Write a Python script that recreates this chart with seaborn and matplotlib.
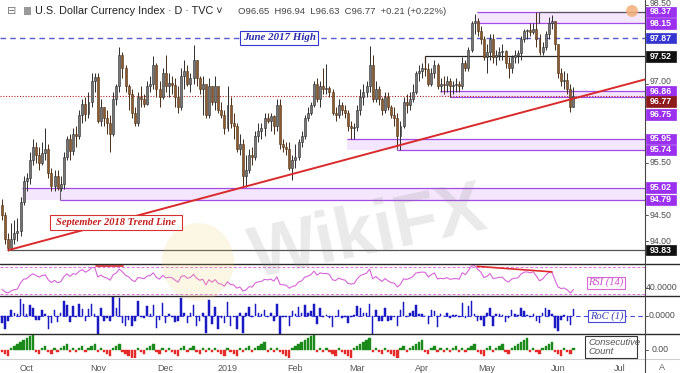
import numpy as np
import pandas as pd
import matplotlib
matplotlib.use("Agg")
import matplotlib.pyplot as plt
from matplotlib.patches import Rectangle, Ellipse
from matplotlib.lines import Line2D
import seaborn as sns

# ---------------- data ----------------
prior_closes = [96.05, 95.20, 95.10, 95.50, 95.15, 94.85, 94.75, 94.60, 94.75, 95.15, 95.15,
                95.45, 95.20, 95.05, 95.35, 95.10, 95.25, 94.80, 94.50, 94.90, 94.50, 94.75]
first_open = 94.70

close_sep = [94.50, 94.05, 93.88, 94.05, 94.15, 94.20, 94.75, 95.15]
high_sep = [94.80, 94.55, 94.15, 94.35, 94.40, 94.45, 94.85, 95.25]
low_sep = [94.40, 93.95, 93.81, 93.85, 93.95, 94.00, 94.10, 94.70]

close_oct = [95.20, 95.55, 95.80, 95.65, 95.50, 95.68, 95.75, 95.30, 95.05, 95.25, 95.02, 95.10,
             95.60, 95.95, 95.72, 96.05, 96.00, 96.40, 96.62, 96.42, 96.65, 97.05, 97.12]
high_oct = [95.30, 95.70, 95.95, 95.90, 95.80, 95.90, 96.15, 95.85, 95.40, 95.35, 95.35, 95.25,
            95.70, 96.00, 96.05, 96.15, 96.20, 96.50, 96.70, 96.75, 96.85, 97.20, 97.20]
low_oct = [94.95, 95.10, 95.45, 95.50, 95.35, 95.45, 95.55, 95.20, 94.95, 94.95, 94.98, 94.95,
           95.00, 95.55, 95.55, 95.65, 95.80, 95.95, 96.25, 96.30, 96.35, 96.55, 96.85]

close_nov = [96.30, 96.55, 96.35, 96.25, 96.05, 96.70, 96.95, 97.55, 97.30, 96.95, 96.80, 96.45,
             96.25, 96.75, 96.70, 96.62, 96.95, 97.00, 97.35, 96.90, 96.75, 97.20]
high_nov = [97.20, 96.70, 96.55, 96.50, 96.40, 96.85, 97.00, 97.70, 97.60, 97.35, 97.00, 96.90,
            96.55, 96.85, 96.95, 96.80, 97.05, 97.15, 97.53, 97.40, 97.05, 97.30]
low_nov = [96.25, 96.20, 96.20, 96.05, 95.70, 96.00, 96.60, 96.85, 97.10, 96.85, 96.50, 96.35,
           96.20, 96.20, 96.55, 96.55, 96.60, 96.85, 96.90, 96.75, 96.55, 96.70]

close_dec = [96.95, 97.02, 96.98, 96.75, 96.55, 97.15, 97.25, 97.00, 97.10, 97.45, 97.10, 96.90,
             97.00, 96.40, 96.95, 96.65, 96.95, 96.50, 96.40, 96.15]
high_dec = [97.55, 97.20, 97.15, 97.10, 96.95, 97.30, 97.45, 97.35, 97.20, 97.74, 97.45, 97.15,
            97.15, 97.00, 97.10, 96.95, 97.15, 96.95, 96.65, 96.50]
low_dec = [96.85, 96.75, 96.80, 96.55, 96.45, 96.50, 96.90, 96.95, 96.85, 97.00, 96.95, 96.80,
           96.40, 96.35, 96.35, 96.60, 96.50, 96.45, 96.35, 96.05]

close_jan = [96.60, 96.25, 96.20, 95.75, 95.85, 95.25, 95.35, 95.65, 95.60, 96.00, 96.10, 96.15,
             96.35, 96.30, 96.38, 96.20, 96.60, 95.85, 95.80, 95.75, 95.40, 95.55]
high_jan = [96.96, 96.75, 96.45, 96.25, 96.05, 95.95, 95.65, 95.75, 95.80, 96.10, 96.25, 96.25,
            96.45, 96.45, 96.45, 96.40, 96.70, 96.70, 95.95, 95.90, 95.90, 95.65]
low_jan = [96.10, 96.15, 95.95, 95.70, 95.65, 95.05, 95.03, 95.30, 95.45, 95.55, 95.90, 95.95,
           96.00, 96.25, 96.10, 96.05, 96.10, 95.75, 95.70, 95.65, 95.35, 95.16]

close_feb = [95.60, 95.90, 96.00, 96.35, 96.45, 96.60, 97.00, 96.70, 96.95, 96.90, 96.92, 96.85,
             96.45, 96.40, 96.60, 96.50, 96.45, 96.20, 96.15, 96.18]
high_feb = [95.85, 95.95, 96.10, 96.40, 96.55, 96.65, 97.05, 97.10, 97.05, 97.30, 97.37, 96.95,
            96.90, 96.55, 96.70, 96.65, 96.60, 96.50, 96.30, 96.25]
low_feb = [95.40, 95.55, 95.80, 95.95, 96.30, 96.40, 96.55, 96.65, 96.55, 96.80, 96.80, 96.75,
           96.40, 96.30, 96.35, 96.40, 96.35, 96.10, 95.95, 95.95]

close_mar = [96.50, 96.75, 96.85, 96.95, 97.35, 96.70, 96.90, 96.70, 96.50, 96.75, 96.55, 96.40,
             96.35, 96.00, 96.20, 96.65, 96.60, 96.70, 96.85, 97.20, 97.25]
high_mar = [96.60, 96.90, 97.00, 97.05, 97.71, 97.55, 97.05, 96.95, 96.75, 96.85, 96.85, 96.60,
            96.55, 96.45, 96.30, 96.75, 96.80, 96.85, 97.00, 97.25, 97.35]
low_mar = [96.10, 96.40, 96.60, 96.75, 96.85, 96.65, 96.65, 96.60, 96.40, 96.45, 96.50, 96.35,
           96.20, 95.80, 95.74, 96.15, 96.45, 96.50, 96.65, 96.80, 97.05]

close_apr = [97.30, 97.28, 97.00, 97.20, 97.35, 96.95, 97.00, 96.97, 97.05, 96.95, 96.98, 97.00,
             96.96, 97.40, 97.30, 97.65, 98.15, 98.20, 98.00, 97.85, 97.50]
high_apr = [97.40, 97.52, 97.40, 97.30, 97.45, 97.40, 97.10, 97.15, 97.15, 97.10, 97.05, 97.10,
            97.05, 97.50, 97.45, 97.70, 98.20, 98.33, 98.25, 98.10, 97.90]
low_apr = [97.10, 97.15, 96.95, 96.95, 97.10, 96.90, 96.85, 96.80, 96.85, 96.75, 96.80, 96.85,
           96.85, 96.90, 97.25, 97.25, 97.60, 97.95, 97.90, 97.75, 97.45]

close_may = [97.60, 97.85, 97.50, 97.55, 97.60, 97.62, 97.40, 97.30, 97.50, 97.55, 97.58, 97.85,
             98.00, 98.02, 97.98, 98.05, 97.85, 97.60, 97.70, 97.95, 98.15, 98.20, 97.75]
high_may = [97.75, 97.95, 97.95, 97.65, 97.70, 97.75, 97.65, 97.50, 97.55, 97.65, 97.65, 97.90,
            98.05, 98.05, 98.15, 98.15, 98.37, 97.95, 97.80, 98.00, 98.27, 98.31, 98.20]
low_may = [97.20, 97.45, 97.40, 97.35, 97.45, 97.45, 97.30, 97.10, 97.20, 97.40, 97.40, 97.45,
           97.80, 97.85, 97.90, 97.95, 97.70, 97.55, 97.55, 97.65, 97.85, 98.05, 97.65]

close_jun = [97.20, 97.05, 97.08, 96.90, 96.56, 96.77]
high_jun = [97.70, 97.30, 97.25, 97.20, 97.00, 96.94]
low_jun = [97.10, 96.95, 96.90, 96.80, 96.46, 96.63]

holidays = ["2018-12-25", "2019-01-01", "2019-04-19"]
month_labels = ["Oct", "Nov", "Dec", "2019", "Feb", "Mar", "Apr", "May", "Jun", "Jul"]

# horizontal levels / zones drawn on the chart (price values)
june2017_high = 97.87
level_9752 = 97.52
last_close = 96.77
support_low = 93.83
zones = [(98.15, 98.37), (96.75, 96.86), (95.74, 95.95), (94.79, 95.02)]
trend_x = [2, 208]
trend_y = [93.83, 97.08]
rsi_div1_x, rsi_div1_y = [30.5, 39.2], [71.5, 71.5]
rsi_div2_x, rsi_div2_y = [153.8, 178.0], [70.5, 62.5]
axis_ticks = [98.5, 97.0, 95.5, 94.5, 94.0]

# ---------------- assemble ----------------
closes = np.array(close_sep + close_oct + close_nov + close_dec + close_jan + close_feb +
                  close_mar + close_apr + close_may + close_jun)
highs = np.array(high_sep + high_oct + high_nov + high_dec + high_jan + high_feb +
                 high_mar + high_apr + high_may + high_jun)
lows = np.array(low_sep + low_oct + low_nov + low_dec + low_jan + low_feb +
                low_mar + low_apr + low_may + low_jun)
n = len(closes)
opens = np.concatenate([[first_open], closes[:-1]])
hi = np.maximum(highs, np.maximum(opens, closes))
lo = np.minimum(lows, np.minimum(opens, closes))
idx = np.arange(n)

dates = pd.bdate_range("2018-09-19", "2019-07-10")
dates = dates[~dates.isin(pd.to_datetime(holidays))]
ym = dates.year * 100 + dates.month
tick_pos = []
for k in range(1, len(ym)):
    if ym[k] != ym[k - 1]:
        tick_pos.append(k)
tick_pos = tick_pos[:len(month_labels)]

# indicators
allc = np.array(prior_closes + list(closes))
d = np.diff(allc)
gain = np.clip(d, 0, None)
loss = np.clip(-d, 0, None)
N = 14
ag, al = gain[:N].mean(), loss[:N].mean()
rsi = [np.nan] * N
for g, l in zip(gain[N:], loss[N:]):
    ag = (ag * 13 + g) / 14
    al = (al * 13 + l) / 14
    rsi.append(100 - 100 / (1 + ag / al))
rsi = np.array(rsi)[-n:]
roc = (100 * d / allc[:-1])[-n:]
cnt, cc = 0, []
for v in d:
    if v > 0:
        cnt = cnt + 1 if cnt > 0 else 1
    elif v < 0:
        cnt = cnt - 1 if cnt < 0 else -1
    else:
        cnt = 0
    cc.append(cnt)
cc = np.array(cc)[-n:]

# ---------------- figure ----------------
sns.set_style("white")
plt.rcParams["font.family"] = ["Liberation Sans", "DejaVu Sans"]

W, H = 680, 373
PR = 645
XMIN, XMAX = -0.647, 208.15
Y_TOP, Y_BOT = 98.595, 93.567
RSI_LIM = (27.5, 73.9)
ROC_LIM = (-0.66, 0.70)
CC_LIM = (-4.0, 8.0)
fig = plt.figure(figsize=(W / 100, H / 100), dpi=100)
fig.patch.set_facecolor("white")


def fx(px):
    return px / W


def fy(py):
    return 1 - py / H


def panel(top, bottom):
    a = fig.add_axes([0, 1 - bottom / H, PR / W, (bottom - top) / H])
    a.set_facecolor("none")
    for s in a.spines.values():
        s.set_visible(False)
    a.set_xticks([])
    a.set_yticks([])
    return a


ax = panel(0, 264)
ax_rsi = panel(264, 296)
ax_roc = panel(296, 334)
ax_cc = panel(334, 358)

PURPLE_LINE = "#a24be8"
PURPLE_FILL = "#f4e6fc"
PURPLE_LBL = "#9b30f0"

# zones
zone_start = [153.8, 141.8, 111.7, 6.5]
zone_low_start = [153.8, 145.0, 127.9, 18.8]
for (zl, zh), xs, xl in zip(zones, zone_start, zone_low_start):
    ax.add_patch(Rectangle((xs, zl), XMAX - xs + 2, zh - zl, fc=PURPLE_FILL, ec="none", zorder=1))
    ax.hlines(zh, xs, XMAX + 2, color=PURPLE_LINE, lw=0.9, zorder=2)
    ax.hlines(zl, xl, XMAX + 2, color=PURPLE_LINE, lw=0.9, zorder=2)
    if xl != xs:
        ax.vlines(xl, zl, zh, color="#666666", lw=0.8, zorder=2)
ax.vlines(173.8, 98.15, 98.37, color="#444444", lw=0.8, zorder=2)
ax.hlines(98.37, 173.8, XMAX + 2, color="#555555", lw=0.8, zorder=2)

ax.hlines(june2017_high, XMIN, XMAX, color="#5a5ad0", lw=1.0, linestyles=(0, (4, 3)), zorder=2)
ax.hlines(level_9752, 136.9, XMAX + 2, color="#222222", lw=0.9, zorder=2)
ax.vlines(136.9, 97.40, 97.52, color="#222222", lw=0.9, zorder=2)
ax.hlines(support_low, 2, XMAX + 2, color="#555555", lw=0.9, zorder=2)
ax.hlines(last_close, XMIN, XMAX, color="#b22222", lw=0.8, linestyles=(0, (1, 1.5)), zorder=2)

# candles
up = closes >= opens
ax.vlines(idx[up], lo[up], hi[up], color="#2e2e2e", lw=0.7, zorder=3)
ax.vlines(idx[~up], lo[~up], hi[~up], color="#4a2e14", lw=0.7, zorder=3)
ax.bar(idx[up], (closes - opens)[up], bottom=opens[up], width=0.64, color="#767676",
       edgecolor="#2a2a2a", linewidth=0.4, zorder=4)
ax.bar(idx[~up], (closes - opens)[~up], bottom=opens[~up], width=0.64, color="#8c5a2c",
       edgecolor="#4d3016", linewidth=0.4, zorder=4)

# trend line
sns.lineplot(x=trend_x, y=trend_y, ax=ax, color="#d92b2b", lw=1.4, zorder=5)

# RSI
ax_rsi.hlines([70, 30], XMIN, XMAX, color="#e070e0", lw=0.7, linestyles=(0, (3, 2)))
sns.lineplot(x=idx, y=rsi, ax=ax_rsi, color="#d764d7", lw=0.8)
ax_rsi.plot(rsi_div1_x, rsi_div1_y, color="#e02828", lw=1.2)
ax_rsi.plot(rsi_div2_x, rsi_div2_y, color="#e02828", lw=1.2)

# RoC
ax_roc.hlines(0, XMIN, XMAX, color="#4545e0", lw=0.8, linestyles=(0, (4, 3)))
ax_roc.bar(idx, roc, width=0.5, color="#1a1ac4", edgecolor="#1a1ac4", linewidth=0.35, zorder=3)

# Consecutive count
cc_col = np.where(cc > 0, "#1a8a1a", "#e52a2a")
ax_cc.bar(idx, cc, width=0.75, color=cc_col, edgecolor=cc_col, linewidth=0.3)

for a in (ax, ax_rsi, ax_roc, ax_cc):
    a.set_xlim(XMIN, XMAX)
    a.set_xlabel("")
    a.set_ylabel("")
ax.set_ylim(Y_BOT, Y_TOP)
ax_rsi.set_ylim(*RSI_LIM)
ax_roc.set_ylim(*ROC_LIM)
ax_cc.set_ylim(*CC_LIM)

ax_cc.set_xticks(tick_pos)
ax_cc.set_xticklabels(month_labels, fontsize=6.5, color="#555555")
ax_cc.tick_params(axis="x", length=0, pad=4)

# ---------------- frame lines ----------------
def fline(x0, y0, x1, y1, color="#222222", lw=1.0, z=12):
    fig.add_artist(Line2D([fx(x0), fx(x1)], [fy(y0), fy(y1)], transform=fig.transFigure,
                          color=color, lw=lw, zorder=z))


for yy in (264, 296, 334):
    fline(0, yy, W, yy, "#2a2a2a", 1.0)
fline(0, 358.5, W, 358.5, "#cfcfcf", 0.8)
fline(PR, 0, PR, H, "#444444", 0.8)

# ---------------- right axis labels ----------------
def vpx(v):
    return (Y_TOP - v) / (Y_TOP - Y_BOT) * 264


for v in axis_ticks:
    py = vpx(v)
    fline(PR, py, PR + 3, py, "#555555", 0.7)
    ty = 3.2 if v == 98.5 else (81.5 if v == 97.0 else py)
    fig.text(fx(661), fy(ty), f"{v:.2f}", fontsize=6.3, color="#4d4d4d", ha="center", va="center", zorder=13)


def box_text(cx, cy, w, h, text, tc, ec, fc="white", lw=0.8, z=20, **kw):
    fig.add_artist(Rectangle((fx(cx - w / 2), fy(cy + h / 2)), w / W, h / H,
                             transform=fig.transFigure, fc=fc, ec=ec, lw=lw, zorder=z))
    fig.text(fx(cx), fy(cy), text, color=tc, ha="center", va="center", zorder=z + 1, **kw)


label_vals = [98.37, 98.15, 97.87, 97.52, 96.86, 96.77, 96.75, 95.95, 95.74, 95.02, 94.79, 93.83]
label_cols = [PURPLE_LBL, PURPLE_LBL, "#3535d0", "#111111", PURPLE_LBL, "#8e1b1b", PURPLE_LBL,
              PURPLE_LBL, PURPLE_LBL, PURPLE_LBL, PURPLE_LBL, "#111111"]
label_py = {96.77: 101.5, 96.75: 114.5}
for v, col in zip(label_vals, label_cols):
    py = label_py.get(v, vpx(v))
    box_text(660.5, py, 30, 10.5, f"{v:.2f}", "white", col, fc=col, lw=0.5,
             fontsize=6.3, fontweight="bold")

# lower panel right labels
fline(PR, 287.5, PR + 3, 287.5, "#555555", 0.7)
fig.text(fx(662), fy(287.5), "40.0000", fontsize=6.3, color="#4d4d4d", ha="center", va="center")
fline(PR, 315.7, PR + 3, 315.7, "#555555", 0.7)
fig.text(fx(662), fy(315.7), "0.0000", fontsize=6.3, color="#4d4d4d", ha="center", va="center")
fline(PR, 350, PR + 3, 350, "#555555", 0.7)
fig.text(fx(660), fy(350), "0.00", fontsize=6.3, color="#4d4d4d", ha="center", va="center")
fig.text(fx(662), fy(367.5), "A", fontsize=6.5, color="#666666", ha="center", va="center")

# ---------------- annotations ----------------
serif_bi = dict(family=["Liberation Serif", "DejaVu Serif"], style="italic", fontweight="bold")
box_text(279, 38, 78, 14, "June 2017 High", "#2a2aa8", "#3535d0", fontsize=7.8, **serif_bi)
box_text(116, 222.5, 132, 15, "September 2018 Trend Line", "#c62020", "#d83030", fontsize=7.6, **serif_bi)
serif_i = dict(family=["Liberation Serif", "DejaVu Serif"], style="italic")
box_text(606, 282.5, 38, 12, "RSI (14)", "#cc4fcc", "#d766d7", fontsize=7.6, **serif_i)
box_text(606.5, 316, 37, 12, "RoC (1)", "#3a3ab5", "#4848d0", fontsize=7.6, **serif_i)
fig.add_artist(Rectangle((fx(585), fy(358)), 52 / W, 22 / H, transform=fig.transFigure,
                         fc="white", ec="#333333", lw=0.8, zorder=20))
fig.text(fx(588), fy(347), "Consecutive\nCount", color="#555555", fontsize=6.8, style="italic",
         ha="left", va="center", linespacing=1.0, zorder=21)

# title
fig.text(fx(7), fy(11), "\u229f", fontsize=8, color="#777777", va="center", family=["DejaVu Sans"])
fig.add_artist(Rectangle((fx(24), fy(15)), 7 / W, 8 / H, transform=fig.transFigure,
                         fc="#9a9a9a", ec="none", zorder=20))
fig.text(fx(35), fy(11), "U.S. Dollar Currency Index \u00b7 D \u00b7 TVC \u02c5", fontsize=7.8,
         color="#222222", va="center", zorder=21, family=["Liberation Sans", "DejaVu Sans"])
fig.text(fx(238), fy(11.5), "O96.65  H96.94  L96.63  C96.77  +0.21 (+0.22%)", fontsize=6.8,
         color="#444444", va="center", zorder=21)

# orange marker
fig.add_artist(Ellipse((fx(632), fy(11)), 12 / W, 12 / H, transform=fig.transFigure,
                       fc="#f4b07a", ec="none", alpha=0.85, zorder=22))

# watermark
fig.add_artist(Ellipse((fx(198), fy(262)), 72 / W, 78 / H, transform=fig.transFigure,
                       fc="#f2cf6e", ec="none", alpha=0.18, zorder=15))
fig.text(fx(368), fy(234), "WikiFX", fontsize=52, fontweight="bold", color="#808080", alpha=0.17,
         rotation=12, ha="center", va="center", zorder=15)

fig.savefig("out.png", dpi=100, facecolor="white")
